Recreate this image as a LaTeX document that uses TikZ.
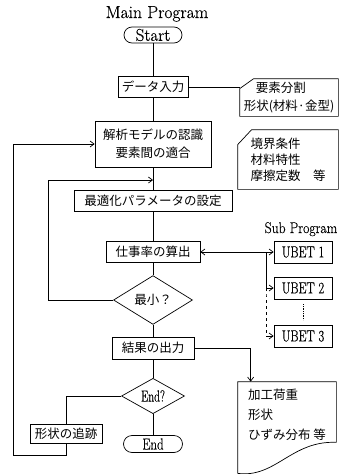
\documentclass[tikz,border=0pt]{standalone}
\usepackage{fontspec}
\usepackage{graphicx}
\usetikzlibrary{shapes.geometric,arrows.meta,calc}
\newfontfamily\jp{Noto Sans CJK JP}
\newfontfamily\lmb[FakeBold=0.5]{Latin Modern Roman}
\newcommand\jpf{\jp\fontsize{12.5}{18}\selectfont}
\newcommand\latc[2][0.78]{\lmb\fontsize{16}{19}\selectfont\scalebox{#1}[1]{#2}}
\begin{document}
\begin{tikzpicture}[x=1pt,y=-1pt,line width=0.7pt,
  box/.style={draw,rectangle,inner sep=0pt,minimum height=21pt,font=\jpf,align=center},
  term/.style={draw,rectangle,rounded corners=8pt,inner sep=0pt,minimum height=16pt},
  dec/.style={draw,diamond,inner sep=0pt,font=\jpf},
  ub/.style={draw,rectangle,inner sep=0pt,minimum width=58pt,minimum height=22pt},
  card/.style={rectangle,inner sep=0pt,font=\jpf,align=left},
  arr/.style={-{Straight Barb[length=4pt,width=6pt]}},
  arrboth/.style={{Straight Barb[length=4pt,width=6pt]}-{Straight Barb[length=4pt,width=6pt]}}
]
\useasboundingbox (0,0) rectangle (341,474);

% titles
\node[anchor=base,font=\lmb\fontsize{17.5}{20}\selectfont] (mp) at (157,18) {Main Program};
\node[anchor=base,font=\lmb\fontsize{15.5}{17}\selectfont] (sp) at (301,233) {\scalebox{0.88}[1]{Sub Program}};

% main flow
\node[term,minimum width=58pt,font=\lmb\fontsize{17}{18}\selectfont] (start) at (153,35) {Start};
\node[box,minimum width=70pt] (data) at (153,87) {データ入力};
\node[box,minimum width=116pt,minimum height=46pt] (kai) at (153,144) {解析モデルの認識\\要素間の適合};
\node[box,minimum width=158pt] (opt) at (153,201) {最適化パラメータの設定};
\node[box,minimum width=94pt] (work) at (153,252) {仕事率の算出};
\node[dec,minimum width=79pt,minimum height=35pt] (min) at (153,300) {最小？};
\node[box,minimum width=82pt,minimum height=22pt] (res) at (153,348) {結果の出力};
\node[dec,minimum width=63pt,minimum height=28pt] (endq) at (153,396) {\latc[0.72]{End?}};
\node[term,minimum width=59pt,minimum height=17pt,rounded corners=8.5pt] (end) at (153,444) {\latc[0.8]{End}};
\node[box,minimum width=72pt,minimum height=19pt] (trace) at (66,434) {形状の追跡};

% sub programs
\node[ub] (u1) at (303,252) {\latc{UBET 1}};
\node[ub] (u2) at (303,288) {\latc{UBET 2}};
\node[ub] (u3) at (303,336) {\latc{UBET 3}};

% cards
\node[card,minimum width=98pt,minimum height=37pt] (c1) at (289,97.5) {\hspace*{12pt}要素分割\\形状(材料·金型)};
\draw (c1.south west) -- ([yshift=-10pt]c1.north west) -- ([xshift=14pt]c1.north west) -- (c1.north east) -- (c1.south east) -- cycle;
\node[card,minimum width=100pt,minimum height=59pt] (c2) at (288,159.5) {境界条件\\[-2pt]材料特性\\[-2pt]摩擦定数　等};
\draw (c2.south west) -- ([yshift=-15pt]c2.north west) -- ([xshift=14pt]c2.north west) -- (c2.north east) -- (c2.south east) -- cycle;

% output document
\node[card,minimum width=98pt,minimum height=66pt] (doc) at (287,415) {加工荷重\\[2pt]形状\\[2pt]ひずみ分布 等};
\draw (doc.north west) -- (doc.north east) -- ([yshift=6pt]doc.south east)
  .. controls +(-45pt,2pt) and +(38pt,-5pt) .. ([yshift=-25pt]doc.south west) -- cycle;

% main connectors
\draw (start) -- (data);
\draw (data) -- (kai);
\draw (kai) -- (opt);
\draw (opt) -- (work);
\draw (work) -- (min);
\draw (min) -- (res);
\draw (res) -- (endq);
\draw (endq) -- (end);

% side connectors
\draw (data.east) -- (data.east -| c1.west);
\coordinate (dtop) at ($(doc.north west)+(13pt,0pt)$);
\draw[arr] (res.east) -| (dtop);

% loops
\coordinate (lb) at (48,180);
\coordinate (mj) at (153,180);
\draw[arr] (min.west) -| (lb) -- (mj);
\coordinate (lo) at (13,455);
\draw (endq.west) -| (trace.north);
\draw[arr] (trace.south) |- (lo) |- (kai.west);

% sub program links
\draw[arrboth] (work.east) -- (u1.west);
\coordinate (jn) at (266,252);
\draw[arr] (jn) |- (u2.west);
\draw[dashed] (jn |- u2.west) -- ++(0pt,-8pt) coordinate (jd) -- (jn |- u3.west);
\draw[arr] (jn |- u3.west) -- (u3.west);
\draw[densely dotted] ([yshift=-5pt]u2.south) -- ([yshift=5pt]u3.north);
\end{tikzpicture}
\end{document}
